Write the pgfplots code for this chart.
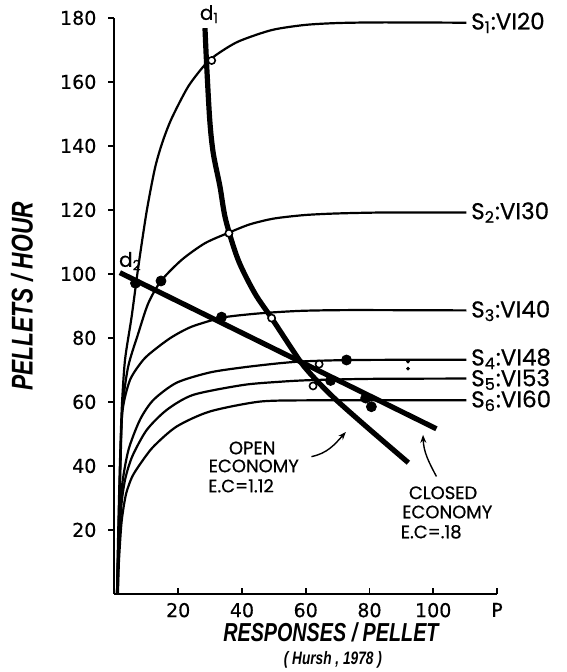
\documentclass[border=0pt]{standalone}
\usepackage{fontspec}
\setmainfont{Poppins}
\newfontfamily\annfont[FakeBold=0.6]{Poppins}
\newfontfamily\labfont[FakeStretch=0.76]{Liberation Sans}
\newfontfamily\tickfont[FakeBold=0.5]{DejaVu Sans}
\usepackage{pgfplots}
\pgfplotsset{compat=1.18}
\usetikzlibrary{arrows.meta}

\begin{document}
\begin{tikzpicture}
\begin{axis}[
  x=1.594pt, y=1.6pt,
  xmin=0, xmax=120, ymin=0, ymax=180,
  axis lines=left,
  axis line style={-, line width=1pt},
  clip=false,
  xtick={20,40,60,80,100,120},
  xticklabels={20,40,60,80,100,P},
  ytick={20,40,...,180},
  tick align=inside,
  major tick length=3pt,
  ytick style={xshift=-3pt},
  tick style={line width=0.9pt, black},
  tick label style={font=\tickfont\fontsize{9.5}{10}\selectfont},
  /pgf/number format/assume math mode=true,
  yticklabel style={xshift=-5.5pt},
  xticklabel style={yshift=-1pt},
]

% S curves (VI schedules)
\addplot[black, line width=1.1pt, smooth, tension=0.45] coordinates {
  (0.8,0) (1.2,20) (1.7,40) (2.3,58) (3.3,73) (5.4,86.7) (7.5,102.3)
  (10.1,119.5) (12.7,133) (15,141) (17.9,148.5) (23.1,158.5) (28.4,165.4) (32,168.5)
  (38.8,172.6) (49.3,176.2) (59.7,177.8) (70,178.4) (84,178.6) (110.4,178.5)
};
\addplot[black, line width=1.1pt, smooth, tension=0.45] coordinates {
  (0.8,0) (1.3,20) (1.8,40) (2.5,58) (4.3,71) (7.5,81.5) (10.6,90.8)
  (14.6,97.8) (21.1,104.4) (28.4,109.6) (35.9,112.9) (42.5,115.5) (50,117.3)
  (59.7,118.4) (70,118.9) (85,119.2) (110.4,119.2)
};
\addplot[black, line width=1.1pt, smooth, tension=0.45] coordinates {
  (0.8,0) (1.4,20) (1.9,40) (2.5,57) (4.9,66.9) (9,73.1) (12.7,76.4)
  (17.9,80.2) (24.2,83.5) (33.6,86.3) (42.5,87.4) (50,88) (59.7,88.5)
  (75,88.7) (110.4,88.6)
};
\addplot[black, line width=1.1pt, smooth, tension=0.45] coordinates {
  (0.9,0) (1.4,20) (2.4,34) (4.4,45) (8,54.4) (12.2,60.6) (19.5,66)
  (29.9,69.2) (40.4,70.8) (51.9,72.1) (60,72.7) (75,73.1) (110.4,73.2)
};
\addplot[black, line width=1.1pt, smooth, tension=0.45] coordinates {
  (1,0) (1.4,15) (2.2,28) (3.4,36) (5.6,43) (10.1,51.2) (16.4,57.5)
  (24.7,62.2) (40.4,65.3) (51.9,66.3) (61.3,66.8) (80,67.2) (110.4,67.3)
};
\addplot[black, line width=1.1pt, smooth, tension=0.45] coordinates {
  (1.1,0) (1.4,10) (2.1,21) (2.7,26) (3.7,31.5) (5.5,36.5) (8,40.5)
  (12.2,46) (19.5,52.3) (29.9,57) (45.6,60.1) (61.3,60.5) (80,60.5) (110.4,60.5)
};

% demand curves
\addplot[black, line width=2.6pt, smooth, tension=0.5] coordinates {
  (28.4,176.8) (28.9,165.8) (29.9,148) (31,137.7) (33.1,127.3) (34.9,116.9)
  (38.8,104.4) (44,94) (49.3,86.2) (54.5,78.3) (58.7,72.1) (62.3,67.9)
  (68.6,61.5) (79,52.3) (92.2,41)
};
\addplot[black, line width=2.6pt] coordinates {(1.7,100.4) (101,51.6)};

% data points
\addplot[only marks, mark=*, mark size=2.5pt, black] coordinates {
  (6.6,97.1) (14.6,97.8) (33.6,86.5) (72.8,73.1) (67.8,66.7) (80.6,58.5) (78.8,61.2)
};
\addplot[only marks, mark=*, mark size=1.8pt,
  mark options={fill=white, draw=black, line width=0.8pt}] coordinates {
  (30.5,166.7) (35.9,112.7) (49.3,86.2) (64.2,71.8) (62.3,65)
};
\addplot[only marks, mark=*, mark size=0.7pt, black] coordinates {
  (92.1,72.6) (92.1,70.4)
};

% curve labels
\begin{scope}[every node/.style={font=\annfont\fontsize{11.5}{13}\selectfont, anchor=mid west, inner sep=0pt}]
\node at (axis cs:111.8,178.1) {S\textsubscript{1}:VI20};
\node at (axis cs:111.8,118.8) {S\textsubscript{2}:VI30};
\node at (axis cs:111.8,88.1) {S\textsubscript{3}:VI40};
\node at (axis cs:111.8,73.1) {S\textsubscript{4}:VI48};
\node at (axis cs:111.8,66.6) {S\textsubscript{5}:VI53};
\node at (axis cs:111.8,60.0) {S\textsubscript{6}:VI60};
\end{scope}
\node[font=\annfont\fontsize{10}{12}\selectfont] at (axis cs:29.8,181.2) {d\textsubscript{1}};
\node[font=\annfont\fontsize{10}{12}\selectfont] at (axis cs:5.0,104.0) {d\textsubscript{2}};

% annotations
\begin{scope}[every node/.style={font=\annfont\fontsize{9}{10}\selectfont, inner sep=0pt}]
\node at (axis cs:43.2,45.6) {OPEN};
\node at (axis cs:43.7,40.0) {ECONOMY};
\node[anchor=west] at (axis cs:29.3,33.8) {E.C=1.12};
\node at (axis cs:103.1,31.6) {CLOSED};
\node at (axis cs:104.4,25.6) {ECONOMY};
\node[anchor=west] at (axis cs:89.7,19.4) {E.C=.18};
\end{scope}
\draw[-{Stealth[length=4pt,width=3pt]}, line width=0.7pt]
  (axis cs:61.8,42.9) to[out=12,in=228] (axis cs:72.6,50.6);
\draw[-{Stealth[length=4pt,width=3pt]}, line width=0.7pt]
  (axis cs:101,36.7) to[out=118,in=-88] (axis cs:96.8,49.7);

% axis titles
\node[rotate=90, font=\labfont\bfseries\itshape\fontsize{15}{16}\selectfont]
  at (axis cs:-29,93) {PELLETS / HOUR};
\node[font=\labfont\bfseries\itshape\fontsize{13}{14}\selectfont]
  at (axis cs:67.9,-11.9) {RESPONSES / PELLET};
\node[font=\labfont\bfseries\itshape\fontsize{9}{10}\selectfont]
  at (axis cs:68.5,-20.6) {( Hursh , 1978 )};

\coordinate (bl) at (axis cs:-35.9,-24.4);
\coordinate (tr) at (axis cs:141.8,185.6);
\end{axis}
\pgfresetboundingbox
\path[use as bounding box] (bl) rectangle (tr);
\end{tikzpicture}
\end{document}
